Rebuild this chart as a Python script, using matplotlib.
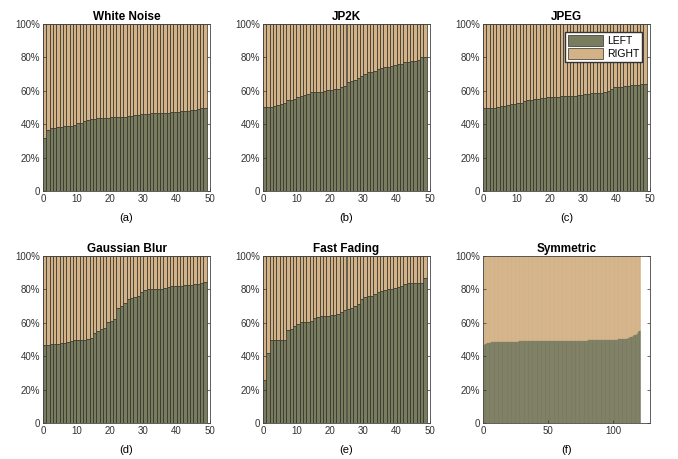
import matplotlib.pyplot as plt
import numpy as np

plt.rcParams['font.family'] = ['Liberation Sans', 'DejaVu Sans']

# percentage of LEFT preference per image (sorted), RIGHT = 100 - LEFT
white_noise = [31.5, 36.5, 37.5, 38, 38.5, 38.5, 39, 39, 39, 39.5,
               40.5, 41, 42, 42.5, 43, 43, 43.5, 43.5, 44, 44,
               44.2, 44.4, 44.5, 44.5, 44.5, 45, 45.2, 45.5, 45.8, 46,
               46, 46.2, 46.5, 46.5, 46.5, 46.6, 46.8, 47, 47.2, 47.4,
               47.5, 47.7, 47.9, 48, 48.3, 48.6, 49, 49.5, 49.5]
jp2k = [50.5, 50.5, 50.5, 51, 51.5, 52, 52.5, 54.5, 54.5, 55,
        56, 57, 57.5, 58, 59, 59, 59, 59.5, 60, 60.5,
        60.5, 61, 61, 62, 63, 65, 66, 66.5, 67.5, 69,
        70, 71, 71.5, 72, 73, 73.5, 74, 74.5, 75, 75.5,
        75.8, 76.2, 77, 77.5, 77.8, 78, 78.5, 80, 80.5]
jpeg = [50, 50, 50, 50, 50.5, 51, 51, 51.5, 52, 52,
        52.5, 52.5, 54, 54.5, 54.5, 55, 55, 55.5, 55.5, 56,
        56, 56.5, 56.5, 57, 57, 57, 57, 57, 57.5, 57.5,
        58, 58, 58.5, 58.5, 58.5, 58.5, 59, 60, 61, 62,
        62.5, 62.5, 63, 63, 63.2, 63.3, 63.5, 64, 64]
gaussian_blur = [46.5, 47, 47.5, 47.5, 47.5, 47.8, 48, 48.5, 49, 49.5,
                 49.5, 50, 50, 50.2, 51, 54, 55, 56, 57, 60.5,
                 61, 62.5, 69, 70, 72, 74.5, 75, 75.5, 76, 78.5,
                 79.5, 80, 80.5, 80.5, 80.5, 80.5, 81, 81.5, 81.8, 82,
                 82, 82.2, 82.4, 82.6, 82.8, 83, 83.5, 84, 84.5]
fast_fading = [26, 42, 49.5, 50, 50, 50, 50, 55.5, 56, 58,
               59, 60.5, 60.5, 60.5, 61, 63, 63.5, 64, 64, 64,
               64.5, 64.5, 65, 66.5, 67.5, 68.5, 69, 70, 71, 74,
               75.5, 76, 76, 77, 78.5, 79, 79.5, 80, 80.5, 81,
               81.5, 82, 83.5, 84, 84, 84, 84, 84, 87]
symmetric = [47.4, 48.2, 48.5, 48.7, 48.8, 48.9, 48.9, 49.0, 49.0, 49.0,
             49.1, 49.1, 49.1, 49.2, 49.2, 49.2, 49.2, 49.3, 49.3, 49.3,
             49.3, 49.3, 49.4, 49.4, 49.4, 49.4, 49.4, 49.5, 49.5, 49.5,
             49.5, 49.5, 49.5, 49.6, 49.6, 49.6, 49.6, 49.6, 49.6, 49.7,
             49.7, 49.7, 49.7, 49.7, 49.7, 49.7, 49.8, 49.8, 49.8, 49.8,
             49.8, 49.8, 49.8, 49.8, 49.8, 49.9, 49.9, 49.9, 49.9, 49.9,
             49.9, 49.9, 49.9, 49.9, 49.9, 49.9, 50.0, 50.0, 50.0, 50.0,
             50.0, 50.0, 50.0, 50.0, 50.0, 50.0, 50.0, 50.0, 50.0, 50.0,
             50.1, 50.1, 50.1, 50.1, 50.1, 50.1, 50.1, 50.1, 50.2, 50.2,
             50.2, 50.2, 50.2, 50.2, 50.3, 50.3, 50.3, 50.3, 50.4, 50.4,
             50.4, 50.5, 50.5, 50.6, 50.6, 50.7, 50.8, 50.9, 51.0, 51.1,
             51.3, 51.5, 51.8, 52.1, 52.5, 53.0, 53.5, 54.0, 54.8, 55.8]

titles = ['White Noise', 'JP2K', 'JPEG', 'Gaussian Blur', 'Fast Fading', 'Symmetric']
letters = ['(a)', '(b)', '(c)', '(d)', '(e)', '(f)']
series = [white_noise, jp2k, jpeg, gaussian_blur, fast_fading, symmetric]

c_left = '#7a7c60'
c_right = '#d4b287'
c_edge = '#2e2e26'

fig = plt.figure(figsize=(6.78, 4.59), dpi=100)

lefts = [43, 263, 483]
tops = [24, 256]
W, H = 167, 167

for k in range(6):
    row, col = k // 3, k % 3
    l = lefts[col] / 678
    b = (459 - tops[row] - H) / 459
    ax = fig.add_axes([l, b, W / 678, H / 459])
    vals = np.array(series[k])
    x = np.arange(len(vals)) + 0.5
    if k < 5:
        ax.bar(x, vals, width=1, color=c_left, edgecolor=c_edge, linewidth=0.5, label='LEFT')
        ax.bar(x, 100 - vals, bottom=vals, width=1, color=c_right, edgecolor=c_edge,
               linewidth=0.5, label='RIGHT')
        ax.set_xlim(0, 50)
        ax.set_xticks([0, 10, 20, 30, 40, 50])
    else:
        ax.bar(x, vals, width=1, color=c_left, edgecolor=c_left, linewidth=0.4)
        ax.bar(x, 100 - vals, bottom=vals, width=1, color=c_right, edgecolor=c_right, linewidth=0.4)
        ax.set_xlim(0, 128)
        ax.set_xticks([0, 50, 100])
    ax.set_ylim(0, 100)
    ax.set_yticks([0, 20, 40, 60, 80, 100])
    ax.set_yticklabels(['0', '20%', '40%', '60%', '80%', '100%'])
    ax.tick_params(direction='in', length=2.5, width=0.5, labelsize=7, colors='#333333',
                   right=True, pad=2)
    for s in ax.spines.values():
        s.set_linewidth(0.6)
        s.set_color('#444444')
    ax.set_title(titles[k], fontsize=8.5, fontweight='bold', pad=3)
    ax.text(0.5, -0.13, letters[k], transform=ax.transAxes, ha='center', va='top', fontsize=8)
    if k == 2:
        ax.legend(loc='upper right', fontsize=7.5, frameon=True, fancybox=False,
                  edgecolor='#333333', framealpha=1, handlelength=3.4, handleheight=1.2,
                  borderpad=0.3, labelspacing=0.2, handletextpad=0.35,
                  borderaxespad=0, bbox_to_anchor=(0.955, 0.95))

fig.savefig('out.png', dpi=100)
